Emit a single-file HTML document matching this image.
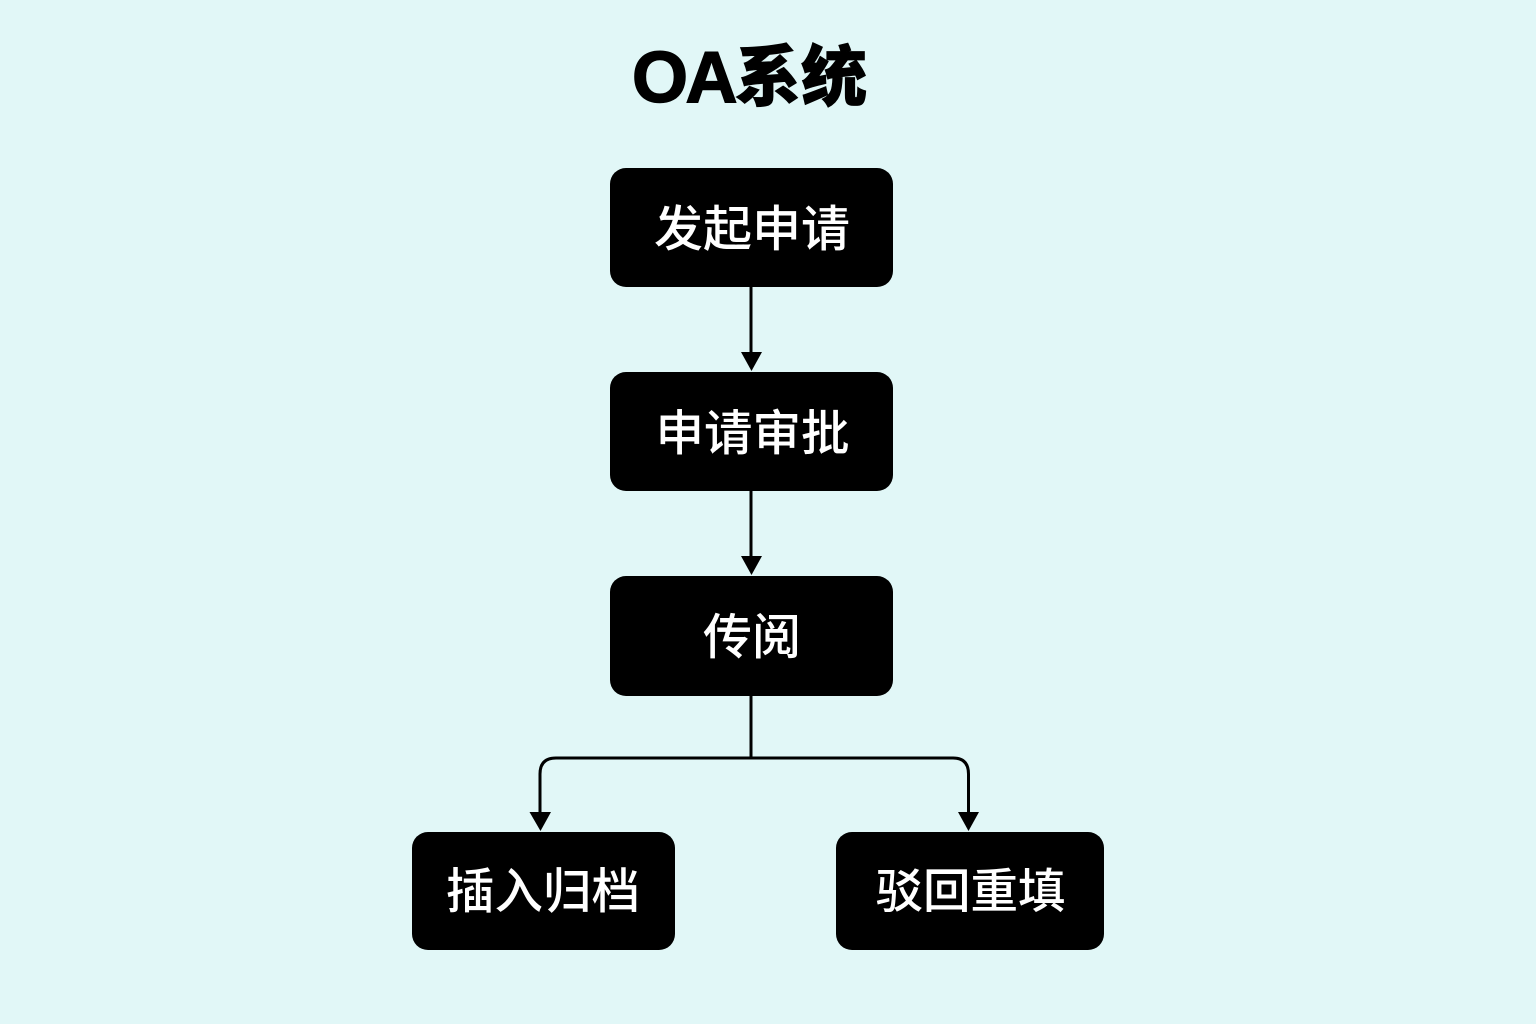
<!DOCTYPE html>
<html lang="zh">
<head>
<meta charset="utf-8">
<style>
html,body{margin:0;padding:0;background:#e1f7f7;}
svg{display:block;}
text{font-family:"Liberation Sans","Noto Sans CJK SC",sans-serif;}
.n{font-size:49px;fill:#fff;font-weight:500;text-anchor:middle;}
</style>
</head>
<body>
<svg width="1536" height="1024" viewBox="0 0 1536 1024" xmlns="http://www.w3.org/2000/svg">
<rect width="1536" height="1024" fill="#e1f7f7"/>
<text x="632" y="102" font-size="72" font-weight="700" letter-spacing="-2.500" fill="#000" stroke="#000" stroke-width="1.500">OA</text>
<text x="735" y="100" font-size="66" font-weight="900" fill="#000" stroke="#000" stroke-width="0.800">系统</text>

<rect x="610" y="168" width="283" height="119" rx="16" fill="#000"/>
<rect x="610" y="372" width="283" height="119" rx="16" fill="#000"/>
<rect x="610" y="576" width="283" height="120" rx="16" fill="#000"/>
<rect x="412" y="832" width="263" height="118" rx="16" fill="#000"/>
<rect x="836" y="832" width="268" height="118" rx="16" fill="#000"/>

<text class="n" x="752" y="246">发起申请</text>
<text class="n" x="752.500" y="450" style="font-size:48.500px">申请审批</text>
<text class="n" x="752" y="654">传阅</text>
<text class="n" x="543" y="908" style="font-size:48.500px">插入归档</text>
<text class="n" x="970.500" y="908" style="font-size:47.500px">驳回重填</text>

<g fill="none" stroke="#000" stroke-width="3">
<path d="M751 287V354"/>
<path d="M751 491V558"/>
<path d="M751 696V758"/>
<path d="M540 814V774Q540 758 556 758H953Q968.500 758 968.500 774V814"/>
</g>
<g fill="#000">
<path d="M741 352H762L751.500 371Z"/>
<path d="M741 556H762L751.500 575Z"/>
<path d="M529.500 812H551L540.500 831Z"/>
<path d="M958 812H979L968.500 831Z"/>
</g>
</svg>
</body>
</html>
